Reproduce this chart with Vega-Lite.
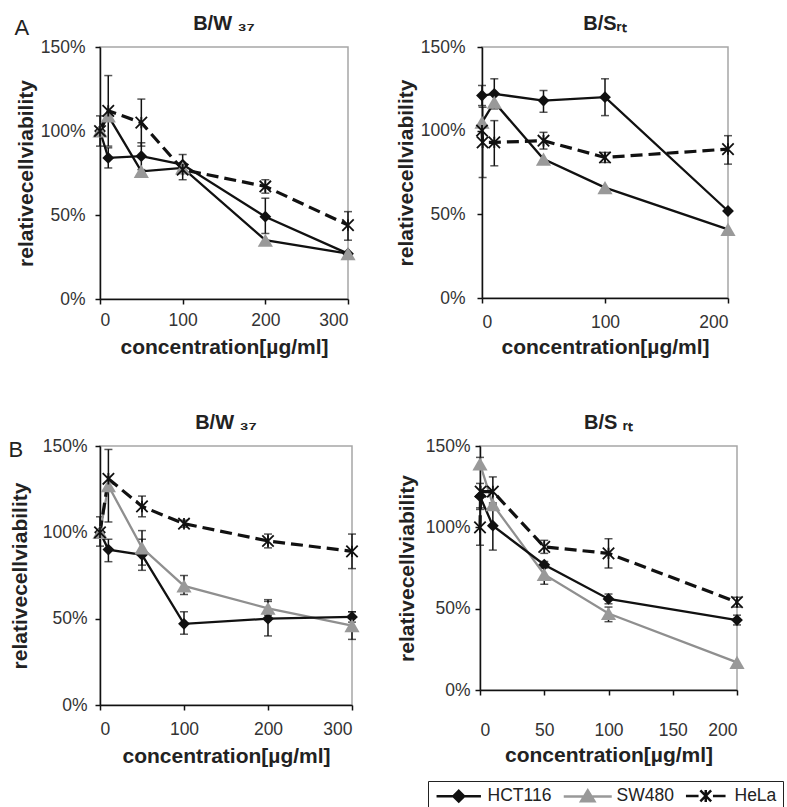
{
  "$schema": "https://vega.github.io/schema/vega-lite/v6.json",
  "padding": {"left": 8, "top": 13, "right": 0, "bottom": 0},
  "config": {
    "font": "Liberation Sans",
    "view": {"stroke": "#a6a6a6", "strokeWidth": 1.5},
    "axis": {"domainColor": "#111", "domainWidth": 1.5, "tickColor": "#111", "tickWidth": 1.5, "tickSize": 5, "grid": false, "labelFontSize": 17.5, "labelColor": "#333", "titleFontSize": 21, "titleFontWeight": "bold", "titleColor": "#222", "labelFont": "Liberation Sans", "titleFont": "Liberation Sans"},
    "title": {"fontSize": 20, "fontWeight": "bold", "color": "#222", "offset": 0, "font": "Liberation Sans"},
    "legend": {"orient": "none", "legendX": 328, "legendY": 734, "direction": "horizontal", "columns": 3, "strokeColor": "#222", "padding": 6, "labelFontSize": 17.5, "labelColor": "#222", "labelOffset": 20, "symbolOffset": 16, "symbolSize": 144, "symbolStrokeWidth": 2.5, "columnPadding": 6, "symbolOpacity": 1, "labelFont": "Liberation Sans", "fillColor": "white"}
  },
  "datasets": {
    "d": [
      {"p": "A1", "s": "HCT116", "c": 0, "v": 100},
      {"p": "A1", "s": "HCT116", "c": 10, "v": 84, "lo": 78, "hi": 90},
      {"p": "A1", "s": "HCT116", "c": 50, "v": 85, "lo": 77, "hi": 93},
      {"p": "A1", "s": "HCT116", "c": 100, "v": 80},
      {"p": "A1", "s": "HCT116", "c": 200, "v": 49, "lo": 39, "hi": 60},
      {"p": "A1", "s": "HCT116", "c": 300, "v": 27},
      {"p": "A1", "s": "SW480", "c": 0, "v": 100},
      {"p": "A1", "s": "SW480", "c": 10, "v": 109},
      {"p": "A1", "s": "SW480", "c": 50, "v": 76},
      {"p": "A1", "s": "SW480", "c": 100, "v": 78},
      {"p": "A1", "s": "SW480", "c": 200, "v": 35},
      {"p": "A1", "s": "SW480", "c": 300, "v": 27},
      {"p": "A1", "s": "HeLa", "c": 0, "v": 100, "lo": 91, "hi": 109},
      {"p": "A1", "s": "HeLa", "c": 10, "v": 112, "lo": 91, "hi": 133},
      {"p": "A1", "s": "HeLa", "c": 50, "v": 105, "lo": 91, "hi": 119},
      {"p": "A1", "s": "HeLa", "c": 100, "v": 77, "lo": 71, "hi": 86},
      {"p": "A1", "s": "HeLa", "c": 200, "v": 67, "lo": 63, "hi": 71},
      {"p": "A1", "s": "HeLa", "c": 300, "v": 44, "lo": 35, "hi": 52},

      {"p": "A2", "s": "HCT116", "c": 0, "v": 121, "lo": 115, "hi": 127},
      {"p": "A2", "s": "HCT116", "c": 10, "v": 122, "lo": 113, "hi": 131},
      {"p": "A2", "s": "HCT116", "c": 50, "v": 118, "lo": 111, "hi": 124},
      {"p": "A2", "s": "HCT116", "c": 100, "v": 120, "lo": 109, "hi": 131},
      {"p": "A2", "s": "HCT116", "c": 200, "v": 52},
      {"p": "A2", "s": "SW480", "c": 0, "v": 105},
      {"p": "A2", "s": "SW480", "c": 10, "v": 117},
      {"p": "A2", "s": "SW480", "c": 50, "v": 83},
      {"p": "A2", "s": "SW480", "c": 100, "v": 66},
      {"p": "A2", "s": "SW480", "c": 200, "v": 41},
      {"p": "A2", "s": "HeLa", "c": 0, "v": 100},
      {"p": "A2", "s": "HeLa", "c": 0.5, "v": 93, "lo": 72, "hi": 114},
      {"p": "A2", "s": "HeLa", "c": 10, "v": 93, "lo": 79, "hi": 106},
      {"p": "A2", "s": "HeLa", "c": 50, "v": 94, "lo": 89, "hi": 99},
      {"p": "A2", "s": "HeLa", "c": 100, "v": 84, "lo": 81, "hi": 87},
      {"p": "A2", "s": "HeLa", "c": 200, "v": 89, "lo": 80, "hi": 97},

      {"p": "B1", "s": "HCT116", "c": 0, "v": 100, "lo": 92, "hi": 109},
      {"p": "B1", "s": "HCT116", "c": 10, "v": 90, "lo": 83, "hi": 96},
      {"p": "B1", "s": "HCT116", "c": 50, "v": 87, "lo": 78, "hi": 96},
      {"p": "B1", "s": "HCT116", "c": 100, "v": 47, "lo": 41, "hi": 54},
      {"p": "B1", "s": "HCT116", "c": 200, "v": 50, "lo": 40, "hi": 60},
      {"p": "B1", "s": "HCT116", "c": 300, "v": 51, "lo": 48, "hi": 54},
      {"p": "B1", "s": "SW480", "c": 0, "v": 100},
      {"p": "B1", "s": "SW480", "c": 10, "v": 127, "lo": 106, "hi": 148},
      {"p": "B1", "s": "SW480", "c": 50, "v": 91, "lo": 81, "hi": 101},
      {"p": "B1", "s": "SW480", "c": 100, "v": 69, "lo": 64, "hi": 75},
      {"p": "B1", "s": "SW480", "c": 200, "v": 56, "lo": 52, "hi": 61},
      {"p": "B1", "s": "SW480", "c": 300, "v": 46, "lo": 38, "hi": 54},
      {"p": "B1", "s": "HeLa", "c": 0, "v": 100},
      {"p": "B1", "s": "HeLa", "c": 10, "v": 131},
      {"p": "B1", "s": "HeLa", "c": 50, "v": 115, "lo": 109, "hi": 121},
      {"p": "B1", "s": "HeLa", "c": 100, "v": 105, "lo": 103, "hi": 107},
      {"p": "B1", "s": "HeLa", "c": 200, "v": 95, "lo": 91, "hi": 99},
      {"p": "B1", "s": "HeLa", "c": 300, "v": 89, "lo": 79, "hi": 99},

      {"p": "B2", "s": "HCT116", "c": 0, "v": 119, "lo": 111, "hi": 127},
      {"p": "B2", "s": "HCT116", "c": 10, "v": 101, "lo": 86, "hi": 115},
      {"p": "B2", "s": "HCT116", "c": 50, "v": 77, "lo": 75, "hi": 79},
      {"p": "B2", "s": "HCT116", "c": 100, "v": 56, "lo": 53, "hi": 59},
      {"p": "B2", "s": "HCT116", "c": 200, "v": 43, "lo": 40, "hi": 46},
      {"p": "B2", "s": "SW480", "c": 0, "v": 139, "lo": 136, "hi": 143},
      {"p": "B2", "s": "SW480", "c": 10, "v": 114},
      {"p": "B2", "s": "SW480", "c": 50, "v": 71, "lo": 65, "hi": 77},
      {"p": "B2", "s": "SW480", "c": 100, "v": 47, "lo": 42, "hi": 51},
      {"p": "B2", "s": "SW480", "c": 200, "v": 17},
      {"p": "B2", "s": "HeLa", "c": 0, "v": 100, "lo": 89, "hi": 112},
      {"p": "B2", "s": "HeLa", "c": 0.5, "v": 122},
      {"p": "B2", "s": "HeLa", "c": 10, "v": 122, "lo": 114, "hi": 131},
      {"p": "B2", "s": "HeLa", "c": 50, "v": 88, "lo": 84, "hi": 92},
      {"p": "B2", "s": "HeLa", "c": 100, "v": 84, "lo": 75, "hi": 93},
      {"p": "B2", "s": "HeLa", "c": 200, "v": 54, "lo": 51, "hi": 57}
    ]
  },
  "spacing": 53,
  "vconcat": [
    {
      "title": {"text": "A", "anchor": "start", "fontSize": 22, "fontWeight": "normal", "offset": -27, "color": "#222"},
      "spacing": 35,
      "hconcat": [
        {
          "width": 248, "height": 252,
          "title": {"text": "B/W ₃₇"},
          "data": {"name": "d"},
          "transform": [{"filter": "datum.p == 'A1'"}],
          "encoding": {
            "x": {"field": "c", "type": "quantitative", "scale": {"domain": [0, 300], "nice": false}, "axis": {"values": [0, 100, 200, 300], "title": "concentration[µg/ml]", "labelPadding": 7, "titlePadding": 8}},
            "y": {"field": "v", "type": "quantitative", "scale": {"domain": [0, 150], "nice": false}, "axis": {"values": [0, 50, 100, 150], "labelExpr": "datum.value + '%'", "title": "relativecellviability", "labelPadding": 10, "titlePadding": 4}}
          },
          "layer": [
            {"transform": [{"filter": "isValid(datum.lo)"}], "mark": {"type": "errorbar", "ticks": {"size": 8}, "thickness": 1.5, "color": "#111"}, "encoding": {"y": {"field": "lo", "type": "quantitative", "title": "relativecellviability"}, "y2": {"field": "hi"}}},
            {"transform": [{"filter": "datum.s != 'HeLa'"}], "mark": {"type": "line", "color": "#111", "strokeWidth": 2.3}, "encoding": {"detail": {"field": "s", "type": "nominal"}}},
            {"transform": [{"filter": "datum.s == 'HeLa'"}], "mark": {"type": "line", "color": "#111", "strokeWidth": 3.2, "strokeDash": [12, 6]}, "encoding": {}},
            {"transform": [{"filter": "datum.s == 'HCT116'"}], "mark": {"type": "point", "shape": "diamond", "filled": true, "color": "#111", "size": 140, "opacity": 1}},
            {"transform": [{"filter": "datum.s == 'SW480'"}], "mark": {"type": "point", "shape": "triangle-up", "filled": true, "color": "#999999", "size": 230, "opacity": 1}},
            {"transform": [{"filter": "datum.s == 'HeLa'"}], "mark": {"type": "point", "shape": "M-1,-1L1,1M-1,1L1,-1M0,-1L0,1", "filled": false, "color": "#111", "size": 130, "strokeWidth": 1.8, "opacity": 1}}
          ]
        },
        {
          "width": 246, "height": 251,
          "title": {"text": "B/Sᵣₜ"},
          "data": {"name": "d"},
          "transform": [{"filter": "datum.p == 'A2'"}],
          "encoding": {
            "x": {"field": "c", "type": "quantitative", "scale": {"domain": [0, 200], "nice": false}, "axis": {"values": [0, 100, 200], "title": "concentration[µg/ml]", "labelPadding": 10, "titlePadding": 6}},
            "y": {"field": "v", "type": "quantitative", "scale": {"domain": [0, 150], "nice": false}, "axis": {"values": [0, 50, 100, 150], "labelExpr": "datum.value + '%'", "title": "relativecellviability", "labelPadding": 12, "titlePadding": 4}}
          },
          "layer": [
            {"transform": [{"filter": "isValid(datum.lo)"}], "mark": {"type": "errorbar", "ticks": {"size": 8}, "thickness": 1.5, "color": "#111"}, "encoding": {"y": {"field": "lo", "type": "quantitative", "title": "relativecellviability"}, "y2": {"field": "hi"}}},
            {"transform": [{"filter": "datum.s != 'HeLa'"}], "mark": {"type": "line", "color": "#111", "strokeWidth": 2.3}, "encoding": {"detail": {"field": "s", "type": "nominal"}}},
            {"transform": [{"filter": "datum.s == 'HeLa'"}], "mark": {"type": "line", "color": "#111", "strokeWidth": 3.2, "strokeDash": [12, 6]}, "encoding": {}},
            {"transform": [{"filter": "datum.s == 'HCT116'"}], "mark": {"type": "point", "shape": "diamond", "filled": true, "color": "#111", "size": 140, "opacity": 1}},
            {"transform": [{"filter": "datum.s == 'SW480'"}], "mark": {"type": "point", "shape": "triangle-up", "filled": true, "color": "#999999", "size": 230, "opacity": 1}},
            {"transform": [{"filter": "datum.s == 'HeLa'"}], "mark": {"type": "point", "shape": "M-1,-1L1,1M-1,1L1,-1M0,-1L0,1", "filled": false, "color": "#111", "size": 130, "strokeWidth": 1.8, "opacity": 1}}
          ]
        }
      ]
    },
    {
      "title": {"text": "B", "anchor": "start", "fontSize": 22, "fontWeight": "normal", "offset": -50, "color": "#222"},
      "spacing": 32,
      "hconcat": [
        {
          "width": 252, "height": 259,
          "title": {"text": "B/W ₃₇"},
          "data": {"name": "d"},
          "transform": [{"filter": "datum.p == 'B1'"}],
          "encoding": {
            "x": {"field": "c", "type": "quantitative", "scale": {"domain": [0, 300], "nice": false}, "axis": {"values": [0, 100, 200, 300], "title": "concentration[µg/ml]", "labelPadding": 10, "titlePadding": 8}},
            "y": {"field": "v", "type": "quantitative", "scale": {"domain": [0, 150], "nice": false}, "axis": {"values": [0, 50, 100, 150], "labelExpr": "datum.value + '%'", "title": "relativecellviability", "labelPadding": 8, "titlePadding": 12}}
          },
          "layer": [
            {"transform": [{"filter": "isValid(datum.lo)"}], "mark": {"type": "errorbar", "ticks": {"size": 8}, "thickness": 1.5, "color": "#111"}, "encoding": {"y": {"field": "lo", "type": "quantitative", "title": "relativecellviability"}, "y2": {"field": "hi"}}},
            {"transform": [{"filter": "datum.s == 'SW480'"}], "mark": {"type": "line", "color": "#8f8f8f", "strokeWidth": 2.3}, "encoding": {}},
            {"transform": [{"filter": "datum.s == 'HCT116'"}], "mark": {"type": "line", "color": "#111", "strokeWidth": 2.3}, "encoding": {}},
            {"transform": [{"filter": "datum.s == 'HeLa'"}], "mark": {"type": "line", "color": "#111", "strokeWidth": 3.2, "strokeDash": [12, 6]}, "encoding": {}},
            {"transform": [{"filter": "datum.s == 'HCT116'"}], "mark": {"type": "point", "shape": "diamond", "filled": true, "color": "#111", "size": 140, "opacity": 1}},
            {"transform": [{"filter": "datum.s == 'SW480'"}], "mark": {"type": "point", "shape": "triangle-up", "filled": true, "color": "#999999", "size": 230, "opacity": 1}},
            {"transform": [{"filter": "datum.s == 'HeLa'"}], "mark": {"type": "point", "shape": "M-1,-1L1,1M-1,1L1,-1M0,-1L0,1", "filled": false, "color": "#111", "size": 130, "strokeWidth": 1.8, "opacity": 1}}
          ]
        },
        {
          "width": 257, "height": 244,
          "title": {"text": "B/S ᵣₜ"},
          "data": {"name": "d"},
          "transform": [{"filter": "datum.p == 'B2'"}],
          "encoding": {
            "x": {"field": "c", "type": "quantitative", "scale": {"domain": [0, 200], "nice": false}, "axis": {"values": [0, 50, 100, 150, 200], "title": "concentration[µg/ml]", "labelPadding": 26, "titlePadding": 6}},
            "y": {"field": "v", "type": "quantitative", "scale": {"domain": [0, 150], "nice": false}, "axis": {"values": [0, 50, 100, 150], "labelExpr": "datum.value + '%'", "title": "relativecellviability", "labelPadding": 5, "titlePadding": 8}}
          },
          "layer": [
            {"transform": [{"filter": "isValid(datum.lo)"}], "mark": {"type": "errorbar", "ticks": {"size": 8}, "thickness": 1.5, "color": "#111"}, "encoding": {"y": {"field": "lo", "type": "quantitative", "title": "relativecellviability"}, "y2": {"field": "hi"}}},
            {"transform": [{"filter": "datum.s == 'SW480'"}], "mark": {"type": "line", "color": "#8f8f8f", "strokeWidth": 2.3}, "encoding": {}},
            {"transform": [{"filter": "datum.s == 'HCT116'"}], "mark": {"type": "line", "color": "#111", "strokeWidth": 2.3}, "encoding": {}},
            {"transform": [{"filter": "datum.s == 'HeLa'"}], "mark": {"type": "line", "color": "#111", "strokeWidth": 3.2, "strokeDash": [12, 6]}, "encoding": {}},
            {"transform": [{"filter": "datum.s == 'HCT116'"}], "mark": {"type": "point", "shape": "diamond", "filled": true, "color": "#111", "size": 140, "opacity": 1}},
            {"transform": [{"filter": "datum.s == 'SW480'"}], "mark": {"type": "point", "shape": "triangle-up", "filled": true, "color": "#999999", "size": 230, "opacity": 1}},
            {"transform": [{"filter": "datum.s == 'HeLa'"}], "mark": {"type": "point", "shape": "M-1,-1L1,1M-1,1L1,-1M0,-1L0,1", "filled": false, "color": "#111", "size": 130, "strokeWidth": 1.8, "opacity": 1}},
            {"transform": [{"filter": "datum.c == 0"}], "mark": {"type": "point", "filled": true, "opacity": 0, "size": 144},
             "encoding": {
               "shape": {"field": "s", "type": "nominal", "title": null, "scale": {"domain": ["HCT116", "SW480", "HeLa"], "range": ["M-3.7,0H3.7M0,-0.9L0.9,0L0,0.9L-0.9,0Z", "M-4,0H4M0,-1L1.1,0.8L-1.1,0.8Z", "M-3.3,0H-1.2M1.2,0H3.3M-0.9,-0.9L0.9,0.9M-0.9,0.9L0.9,-0.9M0,-1V1"]}},
               "fill": {"field": "s", "type": "nominal", "title": null, "scale": {"domain": ["HCT116", "SW480", "HeLa"], "range": ["#111111", "#999999", "transparent"]}},
               "stroke": {"field": "s", "type": "nominal", "title": null, "scale": {"domain": ["HCT116", "SW480", "HeLa"], "range": ["#111111", "#999999", "#111111"]}}
             }}
          ]
        }
      ]
    }
  ]
}
